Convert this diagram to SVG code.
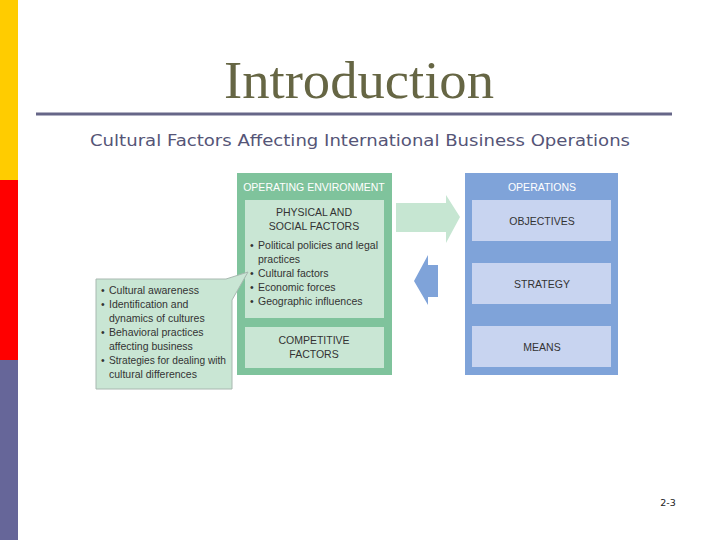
<svg xmlns="http://www.w3.org/2000/svg" width="720" height="540" viewBox="0 0 720 540">
<style>
.t{font-family:"Liberation Sans",Arial,sans-serif;font-size:10.5px;fill:#333333}
.c{text-anchor:middle}
.h{font-family:"Liberation Sans",Arial,sans-serif;font-size:10.5px;fill:#ffffff;text-anchor:middle}
</style>
<rect width="720" height="540" fill="#ffffff"/>
<rect x="0" y="0" width="18" height="180" fill="#ffcc00"/>
<rect x="0" y="180" width="18" height="180" fill="#ff0000"/>
<rect x="0" y="360" width="18" height="180" fill="#666699"/>
<text x="359" y="98" text-anchor="middle" font-family="'Liberation Serif','Times New Roman',serif" font-size="52" fill="#666644" textLength="270" lengthAdjust="spacingAndGlyphs">Introduction</text>
<line x1="36" y1="114" x2="672" y2="114" stroke="#666688" stroke-width="3"/>
<text x="360" y="146" text-anchor="middle" font-family="'DejaVu Sans',Verdana,sans-serif" font-size="16" fill="#555577" textLength="540" lengthAdjust="spacingAndGlyphs">Cultural Factors Affecting International Business Operations</text>
<text x="668" y="506" text-anchor="middle" font-family="'DejaVu Sans',Verdana,sans-serif" font-size="9.5" fill="#222222">2-3</text>

<g id="connectors">
<polygon points="396,203 446,203 446,195 460,217 446,243 446,232 396,232" fill="#c6e6d2"/>
<polygon points="438,265 428,265 428,255 414,281 428,305 428,297 438,297" fill="#7fa3d9"/>
</g>

<g id="operating-environment">
<rect x="237" y="173" width="155" height="202" fill="#7fc39c"/>
<text class="h" x="314" y="191">OPERATING ENVIRONMENT</text>
<rect x="245" y="200" width="139" height="118" fill="#c9e6d4"/>
<text class="t c" x="314" y="216">PHYSICAL AND</text>
<text class="t c" x="314" y="230">SOCIAL FACTORS</text>
<text class="t" x="250" y="249">•</text><text class="t" x="258" y="249" textLength="120" lengthAdjust="spacingAndGlyphs">Political policies and legal</text>
<text class="t" x="258" y="263">practices</text>
<text class="t" x="250" y="277">•</text><text class="t" x="258" y="277">Cultural factors</text>
<text class="t" x="250" y="291">•</text><text class="t" x="258" y="291">Economic forces</text>
<text class="t" x="250" y="305">•</text><text class="t" x="258" y="305">Geographic influences</text>
<rect x="245" y="327" width="139" height="41" fill="#c9e6d4"/>
<text class="t c" x="314" y="344">COMPETITIVE</text>
<text class="t c" x="314" y="358">FACTORS</text>
</g>

<g id="cultural-callout">
<path d="M96,279 H226 L248,272 L232,300 V389 H96 Z" fill="#c9e6d4" stroke="#a8b8b0" stroke-width="1"/>
<text class="t" x="101" y="294">•</text><text class="t" x="109" y="294">Cultural awareness</text>
<text class="t" x="101" y="308">•</text><text class="t" x="109" y="308">Identification and</text>
<text class="t" x="109" y="322">dynamics of cultures</text>
<text class="t" x="101" y="336">•</text><text class="t" x="109" y="336">Behavioral practices</text>
<text class="t" x="109" y="350">affecting business</text>
<text class="t" x="101" y="364">•</text><text class="t" x="109" y="364" textLength="117" lengthAdjust="spacingAndGlyphs">Strategies for dealing with</text>
<text class="t" x="109" y="378">cultural differences</text>
</g>

<g id="operations">
<rect x="465" y="173" width="153" height="202" fill="#7fa3d9"/>
<text class="h" x="542" y="191">OPERATIONS</text>
<rect x="472" y="200" width="139" height="41" fill="#c8d4f0"/>
<text class="t c" x="542" y="225">OBJECTIVES</text>
<rect x="472" y="263" width="139" height="41" fill="#c8d4f0"/>
<text class="t c" x="542" y="288">STRATEGY</text>
<rect x="472" y="326" width="139" height="41" fill="#c8d4f0"/>
<text class="t c" x="542" y="351">MEANS</text>
</g>
</svg>
